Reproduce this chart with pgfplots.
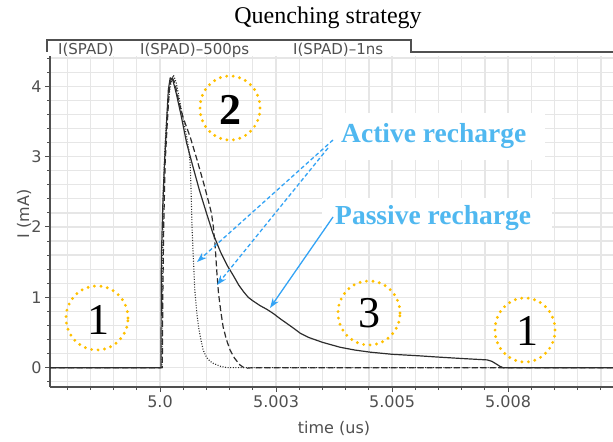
\documentclass[border=0pt]{standalone}
\usepackage{fontspec}
\setmainfont{Liberation Serif}
\newfontfamily\sans{DejaVu Sans}
\usepackage{pgfplots}
\pgfplotsset{compat=1.18}
\usetikzlibrary{arrows.meta}

\definecolor{gridgray}{RGB}{230,230,230}
\definecolor{axgray}{RGB}{80,80,80}
\definecolor{curve}{RGB}{45,45,45}
\definecolor{ringorange}{RGB}{255,192,0}
\definecolor{arrowblue}{RGB}{51,163,245}
\definecolor{textblue}{RGB}{80,184,240}

\begin{document}
\begin{tikzpicture}
\useasboundingbox (0,0) rectangle (613bp,442bp);
% x is time after 5.0 us, in ns; y is current in mA
\begin{axis}[
    at={(50bp,55bp)}, anchor=south west,
    scale only axis, width=563bp, height=331bp,
    xmin=-2.37, xmax=9.76, ymin=-0.275, ymax=4.43,
    axis x line*=bottom, axis y line*=left,
    axis line style={axgray, line width=1.3bp},
    xtick={0,2.5,5,7.5}, xticklabels={5.0,5.003,5.005,5.008},
    minor xtick={-2,-1.5,...,9.5},
    ytick={0,1,2,3,4},
    minor ytick={-0.2,0.2,0.4,...,4.4},
    grid=both,
    major grid style={gridgray, line width=1.3bp},
    minor grid style={gridgray, line width=1.3bp},
    tick align=outside,
    major tick length=5bp, minor tick length=3bp,
    tick style={axgray, line width=1bp},
    tick label style={font=\sans\fontsize{16bp}{19bp}\selectfont, text=axgray,
        /pgf/number format/assume math mode=true},
    line join=round,
]

% I(SPAD)-500ps
\addplot[curve, line width=1.1bp, dash pattern=on 1bp off 1.6bp] coordinates {
    (-2.37,0) (0.04,0) (0.05,1.0) (0.07,2.5) (0.11,3.2) (0.15,3.6) (0.22,4.0)
    (0.29,4.16) (0.35,4.05) (0.45,3.7) (0.575,3.28) (0.62,3.1) (0.65,2.9)
    (0.67,2.5) (0.69,2.0) (0.72,1.53) (0.75,1.1) (0.79,0.8) (0.83,0.58)
    (0.88,0.4) (0.93,0.25) (1.0,0.15) (1.08,0.09) (1.15,0.06) (1.3,0.02)
    (1.44,0) (9.76,0)
};

% I(SPAD)-1ns
\addplot[curve, line width=1.2bp, dash pattern=on 6bp off 3bp] coordinates {
    (-2.37,0) (0.05,0) (0.06,1.0) (0.08,2.0) (0.11,2.9) (0.15,3.4) (0.2,3.95)
    (0.25,4.14) (0.32,4.05) (0.4,3.8) (0.5,3.55) (0.65,3.28) (0.8,2.95)
    (0.95,2.6) (1.05,2.35) (1.11,2.19) (1.15,2.0) (1.19,1.72) (1.22,1.4)
    (1.26,1.06) (1.31,0.8) (1.36,0.58) (1.43,0.4) (1.51,0.25) (1.6,0.14)
    (1.72,0.04) (1.83,-0.01) (2.0,0) (9.76,0)
};

% I(SPAD)
\addplot[curve, line width=1.2bp] coordinates {
    (-2.37,0) (0.02,0) (0.03,1.57) (0.06,2.3) (0.09,2.8) (0.12,3.2) (0.15,3.6)
    (0.18,3.95) (0.22,4.12) (0.28,4.08) (0.35,3.9) (0.45,3.6) (0.575,3.19)
    (0.7,2.88) (0.85,2.52) (1.0,2.2) (1.14,1.91) (1.3,1.65) (1.45,1.45)
    (1.57,1.32) (1.7,1.17) (1.8,1.08) (1.9,1.0) (2.0,0.95) (2.16,0.88)
    (2.3,0.83) (2.44,0.77) (2.6,0.69) (2.73,0.63) (2.9,0.55) (3.02,0.49)
    (3.2,0.43) (3.5,0.36) (3.88,0.29) (4.2,0.25) (4.53,0.22) (5.0,0.19)
    (5.54,0.17) (6.0,0.15) (6.5,0.13) (7.05,0.11) (7.15,0.09) (7.25,0.05)
    (7.32,0.02) (7.39,0) (9.76,0)
};

\end{axis}

% annotations, in pixel units of the picture (origin top left)
\begin{scope}[x=1bp, y=-1bp, shift={(0bp,442bp)}]
  \node[font=\fontsize{24bp}{28bp}\selectfont] at (328,18) {Quenching strategy};

  % legend tab
  \draw[axgray, line width=1.3bp] (47,52) -- (47,40) -- (411,40) -- (411,52) -- (613,52);
  \begin{scope}[every node/.style={anchor=base west, inner sep=0,
      font=\sans\fontsize{15bp}{18bp}\selectfont, text=axgray}]
    \node at (58,54.5) {I(SPAD)};
    \node at (140,54.5) {I(SPAD)–500ps};
    \node at (293,54.5) {I(SPAD)–1ns};
  \end{scope}

  % axis labels
  \node[font=\sans\fontsize{16bp}{19bp}\selectfont, text=axgray] at (334,428) {time (us)};
  \node[rotate=90, font=\sans\fontsize{16bp}{19bp}\selectfont, text=axgray] at (24,214) {I (mA)};

  % phase circles
  \begin{scope}[ringorange, line width=3.2bp, line cap=round, dash pattern=on 0bp off 6.5bp]
    \draw (97,318) ellipse [x radius=31bp, y radius=32bp];
    \draw (230,108) ellipse [x radius=30bp, y radius=32bp];
    \draw (369,313) ellipse [x radius=31bp, y radius=32bp];
    \draw (525,330) ellipse [x radius=30bp, y radius=32bp];
  \end{scope}
  \begin{scope}[every node/.style={font=\fontsize{44bp}{48bp}\selectfont}]
    \node at (98,320) {1};
    \node[font=\bfseries\fontsize{44bp}{48bp}\selectfont] at (230,110) {2};
    \node at (369,313) {3};
    \node at (527,331) {1};
  \end{scope}

  % labels with white backing
  \fill[white] (323,113) rectangle (545,160);
  \fill[white] (322,198) rectangle (552,240);
  \node[anchor=base west, inner sep=0, text=textblue,
        font=\bfseries\fontsize{27.5bp}{32bp}\selectfont] at (341,143) {Active recharge};
  \node[anchor=base west, inner sep=0, text=textblue,
        font=\bfseries\fontsize{27.5bp}{32bp}\selectfont] at (335,225) {Passive recharge};

  % arrows
  \draw[arrowblue, line width=1.3bp, dash pattern=on 4bp off 2.5bp,
        -{Stealth[length=10bp, width=7bp]}] (333,140) -- (197,262);
  \draw[arrowblue, line width=1.3bp, dash pattern=on 4bp off 2.5bp,
        -{Stealth[length=10bp, width=7bp]}] (328,148) -- (217,285);
  \draw[arrowblue, line width=1.3bp,
        -{Stealth[length=10bp, width=7bp]}] (333,217) -- (270,308);
\end{scope}
\end{tikzpicture}
\end{document}
